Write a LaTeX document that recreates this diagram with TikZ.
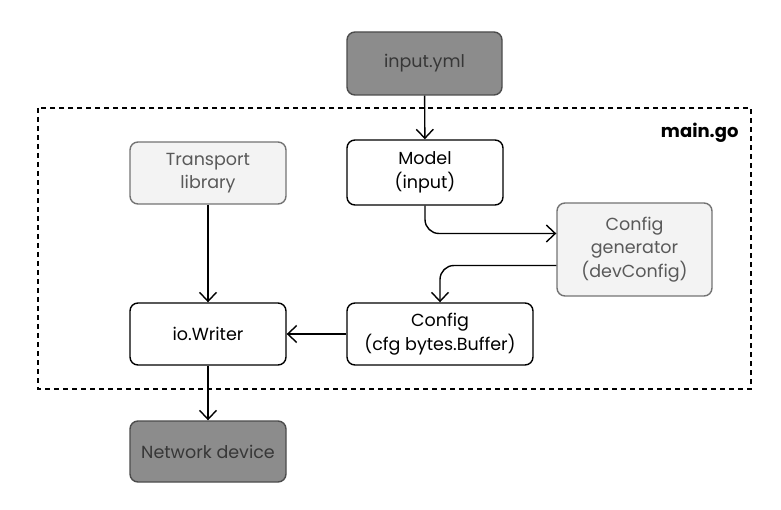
\documentclass[tikz,border=0pt]{standalone}
\usepackage{fontspec}
\setmainfont{Poppins}
\usetikzlibrary{arrows.meta}

\definecolor{darkbox}{RGB}{140,140,140}
\definecolor{lightbox}{RGB}{243,243,243}
\definecolor{boxtext}{RGB}{55,55,55}

\tikzset{
  box/.style={draw=black, rounded corners=8pt, line width=1.4pt, fill=white,
    align=center, inner sep=0pt, font=\fontsize{17.5}{23.5}\selectfont},
  darkbox/.style={box, draw=black!70, fill=darkbox, text=boxtext},
  lightbox/.style={box, draw=black!55, fill=lightbox, text=black!65},
  flow/.style={line width=1.4pt, -{Straight Barb[length=9pt,width=17pt,line width=1.4pt]}}
}

\begin{document}
\begin{tikzpicture}[x=1pt,y=-1pt]
\useasboundingbox (0,0) rectangle (781,510);
% frame of main.go
\draw [line width=1.2pt, dash pattern=on 5pt off 4pt] (38,108) rectangle (751,389);
\node [anchor=east, font=\fontsize{18}{20}\selectfont\bfseries] (maingo) at (742,133) {main.go};

\node [darkbox, minimum width=155pt, minimum height=63pt] (input) at (424.5,63.5) {input.yml};
\node [box, minimum width=156pt, minimum height=65pt] (model) at (425,172.5) {Model\\(input)};
\node [lightbox, minimum width=156pt, minimum height=62pt] (transport) at (208,173) {Transport\\library};
\node [lightbox, minimum width=155pt, minimum height=93pt] (gen) at (634.5,249.5) {Config\\generator\\(devConfig)};
\node [box, minimum width=156pt, minimum height=62pt] (writer) at (208,334) {io.Writer};
\node [box, minimum width=186pt, minimum height=62pt] (cfg) at (440,334) {Config\\(cfg bytes.Buffer)};
\node [darkbox, minimum width=156pt, minimum height=61pt] (device) at (208,451.5) {Network device};

\draw [flow] (input) -- (model);
\draw [flow, rounded corners=14pt] (model.south) |- ([yshift=16pt]gen.west);
\draw [flow, rounded corners=14pt] ([yshift=-16pt]gen.west) -| (cfg.north);
\draw [flow] (transport) -- (writer);
\draw [flow] (cfg) -- (writer);
\draw [flow] (writer) -- (device);
\end{tikzpicture}
\end{document}
